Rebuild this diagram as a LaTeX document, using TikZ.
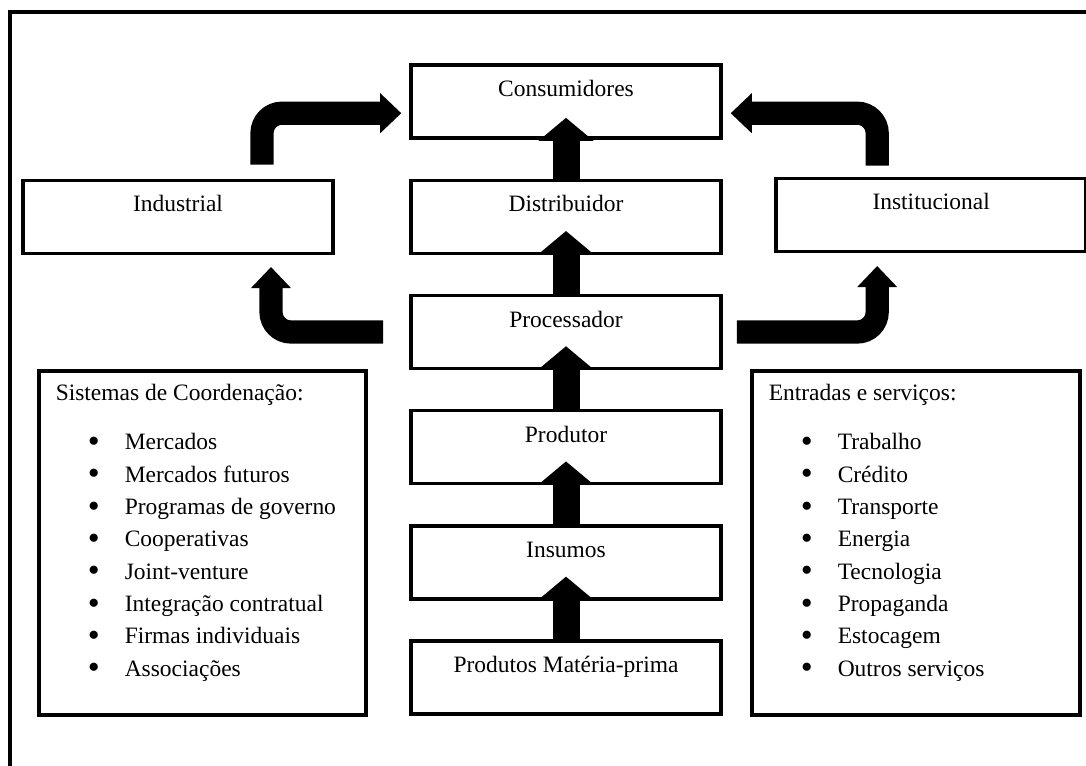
\documentclass[tikz,border=0pt]{standalone}
\usepackage{fontspec}
\setmainfont{Liberation Serif}
\usetikzlibrary{arrows.meta, calc}

\newcommand{\listdot}{\hspace*{0.8cm}\makebox[0.925cm][l]{\raisebox{-0.12em}{\scalebox{1.45}{\textbullet}}}}

\tikzset{
  stage/.style={draw, line width=2.5pt, minimum width=7.75cm, inner sep=0pt, text height=0.79cm, text depth=1.035cm},
  listbox/.style={draw, line width=2.5pt, anchor=north west, inner xsep=0.425cm, inner ysep=0pt},
  upflow/.style={line width=0.675cm, -{Triangle[length=0.575cm, width=1.375cm, line width=0pt]}},
  sideflow/.style={line width=0.58cm, rounded corners=0.5cm, -{Triangle[length=0.525cm, width=1.0cm, line width=0pt]}}
}

\begin{document}
\begin{tikzpicture}[font=\fontsize{16.7}{23}\selectfont]

    \useasboundingbox (0, 0) rectangle (27.15, -19.125);
    \draw [line width=2.5pt] (27.4, -0.3) -| (0.25, -19.4);

    \node [stage] (Cons) at (14.15, -2.54) {Consumidores};
    \node [stage] (Dist) at ($(Cons) - (0, 2.88)$) {Distribuidor};
    \node [stage] (Proc) at ($(Dist) - (0, 2.88)$) {Processador};
    \node [stage] (Prod) at ($(Proc) - (0, 2.88)$) {Produtor};
    \node [stage] (Ins) at ($(Prod) - (0, 2.88)$) {Insumos};
    \node [stage] (Mat) at ($(Ins) - (0, 2.88)$) {Produtos Matéria-prima};
    \node [stage] (Ind) at ($(Dist) - (9.7, 0)$) {Industrial};
    \node [stage] (Inst) at ($(Dist) + (9.13, 0.05)$) {Institucional};

    \node [listbox] (Coord) at (0.925, -9.225) {\parbox[t][8.6cm][t]{7.325cm}{\rule{0pt}{0.75cm}Sistemas de Coordenação:\\[0.415cm]
        \listdot Mercados\\
        \listdot Mercados futuros\\
        \listdot Programas de governo\\
        \listdot Cooperativas\\
        \listdot Joint-venture\\
        \listdot Integração contratual\\
        \listdot Firmas individuais\\
        \listdot Associações}};
    \node [listbox] (Serv) at (18.75, -9.225) {\parbox[t][8.6cm][t]{7.35cm}{\rule{0pt}{0.75cm}Entradas e serviços:\\[0.415cm]
        \listdot Trabalho\\
        \listdot Crédito\\
        \listdot Transporte\\
        \listdot Energia\\
        \listdot Tecnologia\\
        \listdot Propaganda\\
        \listdot Estocagem\\
        \listdot Outros serviços}};

    \draw [upflow] (Dist.north) -- ([yshift=0.55cm]Cons.south);
    \draw [upflow] (Proc.north) -- ([yshift=0.6cm]Dist.south);
    \draw [upflow] (Prod.north) -- ([yshift=0.6cm]Proc.south);
    \draw [upflow] (Ins.north) -- ([yshift=0.6cm]Prod.south);
    \draw [upflow] (Mat.north) -- ([yshift=0.6cm]Ins.south);

    \draw [sideflow] ([xshift=2.1cm, yshift=0.35cm]Ind.north) |- ([xshift=-0.2cm, yshift=-0.29cm]Cons.west);
    \draw [sideflow] ([xshift=-1.35cm, yshift=0.275cm]Inst.north) |- ([xshift=0.2cm, yshift=-0.29cm]Cons.east);
    \draw [sideflow] ([xshift=-0.65cm]Proc.west) -| ([xshift=2.325cm, yshift=-0.3cm]Ind.south);
    \draw [sideflow] ([xshift=0.35cm]Proc.east) -| ([xshift=-1.35cm, yshift=-0.325cm]Inst.south);

\end{tikzpicture}
\end{document}
